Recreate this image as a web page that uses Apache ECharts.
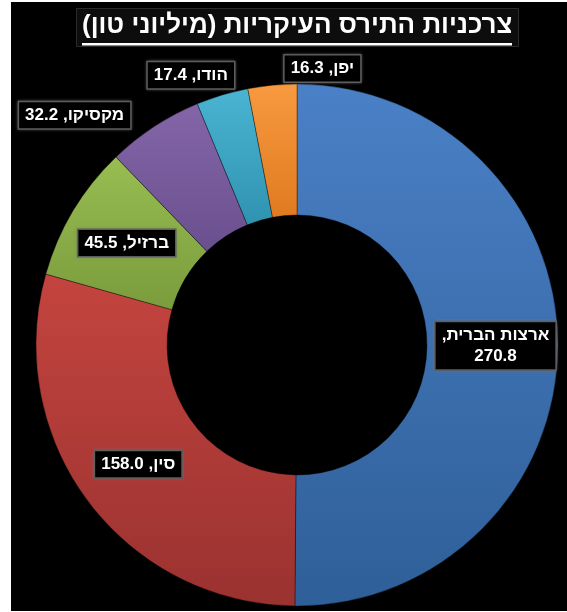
<!DOCTYPE html>
<html>
<head>
<meta charset="utf-8">
<script src="https://cdn.jsdelivr.net/npm/echarts@6/dist/echarts.min.js"></script>
<style>
  html, body { margin: 0; padding: 0; background: #ffffff; }
  #chart { position: absolute; left: 11px; top: 2px; width: 556px; height: 609px; }
</style>
</head>
<body>
<div id="chart"></div>
<script>
// ---- data ----
const titleText = 'צרכניות התירס העיקריות (מיליוני טון)';
const countries = ['ארצות הברית', 'סין', 'ברזיל', 'מקסיקו', 'הודו', 'יפן'];
const values = [270.8, 158.0, 45.5, 32.2, 17.4, 16.3];
const sliceColors = [
  ['#4a80c6', '#2f5f98'],
  ['#c4443f', '#9a3230'],
  ['#98bd52', '#7a9c3c'],
  ['#8466a8', '#6a4f8e'],
  ['#4ab4d2', '#2f93b0'],
  ['#f89a40', '#e07a20']
];
const outsideIdx = [3, 4, 5];
// label offsets from the slice's bounding box (centre-x, top)
const labelShift = { 3: [-107, 12], 4: [-44, -13], 5: [50, -15] };

const pieCenter = [286, 343];
const chart = echarts.init(document.getElementById('chart'));

const labelBox = {
  color: '#ffffff',
  fontFamily: 'Liberation Sans, Arial, sans-serif',
  fontWeight: 'bold',
  fontSize: 17,
  lineHeight: 21,
  backgroundColor: '#000000',
  borderColor: '#5a5a5a',
  borderWidth: 1.5,
  padding: [3, 6, 2, 6],
  shadowColor: 'rgba(120,120,120,0.6)',
  shadowBlur: 3
};

const data = countries.map(function (c, i) {
  const isOut = outsideIdx.indexOf(i) >= 0;
  return {
    name: c,
    value: values[i],
    itemStyle: {
      color: {
        type: 'linear', x: 0, y: 0, x2: 0, y2: 1,
        colorStops: [
          { offset: 0, color: sliceColors[i][0] },
          { offset: 1, color: sliceColors[i][1] }
        ]
      }
    },
    label: Object.assign({
      position: isOut ? 'outside' : 'inside'
    }, labelBox)
  };
});

function fmt(p) {
  const v = p.value.toFixed(1);
  if (p.dataIndex === 0) return p.name + ',\u200F\n' + v;
  return p.name + ', ' + v;
}

// measure the title so it (and its underline) can be centred over the ring
const ctx = document.createElement('canvas').getContext('2d');
ctx.font = 'bold 26px "Liberation Sans", Arial, sans-serif';
const tw = Math.round(ctx.measureText(titleText).width);
const titlePad = 6;

chart.setOption({
  backgroundColor: '#000000',
  animation: false,
  title: [{
    text: titleText,
    left: pieCenter[0] - tw / 2 - titlePad,
    top: 6,
    padding: [5, titlePad, 8, titlePad],
    backgroundColor: '#0d0d0d',
    borderColor: '#2a2a2a',
    borderWidth: 1,
    textStyle: {
      color: '#ffffff',
      fontFamily: 'Liberation Sans, Arial, sans-serif',
      fontWeight: 'bold',
      fontSize: 26
    }
  }, {
    text: '{u|}',
    left: pieCenter[0] - tw / 2,
    top: 41,
    padding: 0,
    z: 20,
    textStyle: {
      rich: {
        u: { width: tw, height: 2.5, lineHeight: 2.5, backgroundColor: '#ffffff' }
      }
    }
  }],
  series: [{
    type: 'pie',
    center: pieCenter,
    radius: [130, 261],
    startAngle: 90,
    clockwise: true,
    avoidLabelOverlap: false,
    itemStyle: { borderColor: 'rgba(0,0,0,0.35)', borderWidth: 1 },
    label: { show: true, formatter: fmt },
    labelLine: { show: false, length: 14, length2: 0 },
    labelLayout: function (params) {
      const s = labelShift[params.dataIndex];
      if (!s) return {};
      const r = params.rect;
      return {
        x: r.x + r.width / 2 + s[0],
        y: r.y + s[1],
        align: 'center',
        verticalAlign: 'middle',
        hideOverlap: false,
        moveOverlap: false
      };
    },
    emphasis: { disabled: true },
    data: data
  }]
});
</script>
</body>
</html>
